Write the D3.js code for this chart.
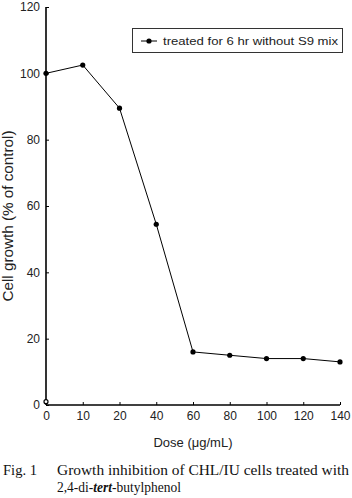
<!DOCTYPE html>
<html><head><meta charset="utf-8">
<script src="https://cdn.jsdelivr.net/npm/d3@7"></script>
<style>body{margin:0;background:#fff}svg{display:block}</style>
</head><body>
<script>
const doses = ["0","10","20","40","60","80","100","120","140"];
const growth = [100, 102.5, 89.5, 54.5, 16, 15, 14, 14, 13];
const blankDose = ["0"];
const blankValue = [1];
const yTicks = [0, 20, 40, 60, 80, 100, 120];
const legendLabel = "treated for 6 hr without S9 mix";

const W = 352, H = 498;
const svg = d3.select("body").append("svg").attr("width", W).attr("height", H);
const x = d3.scalePoint().domain(doses).range([46, 340]);
const y = d3.scaleLinear().domain([0, 120]).range([405, 7]);
const font = "Liberation Sans, Arial, sans-serif";

// axes
const ya = svg.append("g").attr("transform", "translate(46,0)")
  .call(d3.axisRight(y).tickValues(yTicks).tickSize(3).tickFormat(d3.format("d")));
ya.select(".domain").attr("stroke-width", 1.6).attr("d", `M0,${y(120)}V${y(0)}`);
ya.selectAll(".tick text").attr("x", -6).attr("text-anchor", "end")
  .attr("font-family", font).attr("font-size", 12).attr("fill", "#222");
ya.selectAll(".tick line").attr("stroke-width", 1);

const xa = svg.append("g").attr("transform", "translate(0,405)")
  .call(d3.axisTop(x).tickSize(3));
xa.select(".domain").attr("stroke-width", 1.6).attr("d", `M46,0H340`);
xa.selectAll(".tick text").attr("y", 15).attr("dy", "0").attr("font-family", font)
  .attr("font-size", 12).attr("fill", "#222");
xa.selectAll(".tick line").attr("stroke-width", 1);

// line
const line = d3.line().x((d, i) => x(doses[i])).y(d => y(d));
svg.append("path").datum(growth).attr("d", line).attr("fill", "none")
  .attr("stroke", "#000").attr("stroke-width", 1);
svg.selectAll("circle.pt").data(growth).enter().append("circle").attr("class", "pt")
  .attr("cx", (d, i) => x(doses[i])).attr("cy", d => y(d)).attr("r", 2.6).attr("fill", "#000");
svg.selectAll("circle.bl").data(blankValue).enter().append("circle").attr("class", "bl")
  .attr("cx", (d, i) => x(blankDose[i])).attr("cy", d => y(d)).attr("r", 2)
  .attr("fill", "#fff").attr("stroke", "#000").attr("stroke-width", 1.2);

// labels
svg.append("text").attr("transform", "translate(13,216) rotate(-90)")
  .attr("text-anchor", "middle").attr("font-family", font).attr("font-size", 14)
  .attr("textLength", 171).attr("lengthAdjust", "spacingAndGlyphs")
  .attr("fill", "#222").text("Cell growth (% of control)");
svg.append("text").attr("x", 193).attr("y", 447).attr("text-anchor", "middle")
  .attr("font-family", font).attr("font-size", 13).attr("fill", "#222").text("Dose (μg/mL)");

// legend
svg.append("rect").attr("x", 132.5).attr("y", 28.5).attr("width", 210).attr("height", 24)
  .attr("fill", "#fff").attr("stroke", "#333").attr("stroke-width", 1);
svg.append("line").attr("x1", 141).attr("x2", 157).attr("y1", 41).attr("y2", 41)
  .attr("stroke", "#000").attr("stroke-width", 1);
svg.append("circle").attr("cx", 149).attr("cy", 41).attr("r", 2.6).attr("fill", "#000");
svg.append("text").attr("x", 163).attr("y", 45).attr("font-family", font)
  .attr("font-size", 11.5).attr("textLength", 175).attr("lengthAdjust", "spacingAndGlyphs")
  .attr("fill", "#222").text(legendLabel);

// caption
const serif = "Liberation Serif, Times New Roman, serif";
svg.append("text").attr("x", 3).attr("y", 475).attr("font-family", serif)
  .attr("font-size", 14).attr("textLength", 34).attr("lengthAdjust", "spacingAndGlyphs")
  .attr("fill", "#111").text("Fig. 1");
svg.append("text").attr("x", 57).attr("y", 475).attr("font-family", serif)
  .attr("font-size", 14).attr("textLength", 292).attr("lengthAdjust", "spacingAndGlyphs")
  .attr("fill", "#111").text("Growth inhibition of CHL/IU cells treated with");
const t2 = svg.append("text").attr("x", 57).attr("y", 492).attr("font-family", serif)
  .attr("font-size", 14).attr("textLength", 124).attr("lengthAdjust", "spacingAndGlyphs")
  .attr("fill", "#111");
t2.append("tspan").text("2,4-di-");
t2.append("tspan").attr("font-style", "italic").attr("font-weight", "bold").text("tert");
t2.append("tspan").text("-butylphenol");
</script>
</body></html>
